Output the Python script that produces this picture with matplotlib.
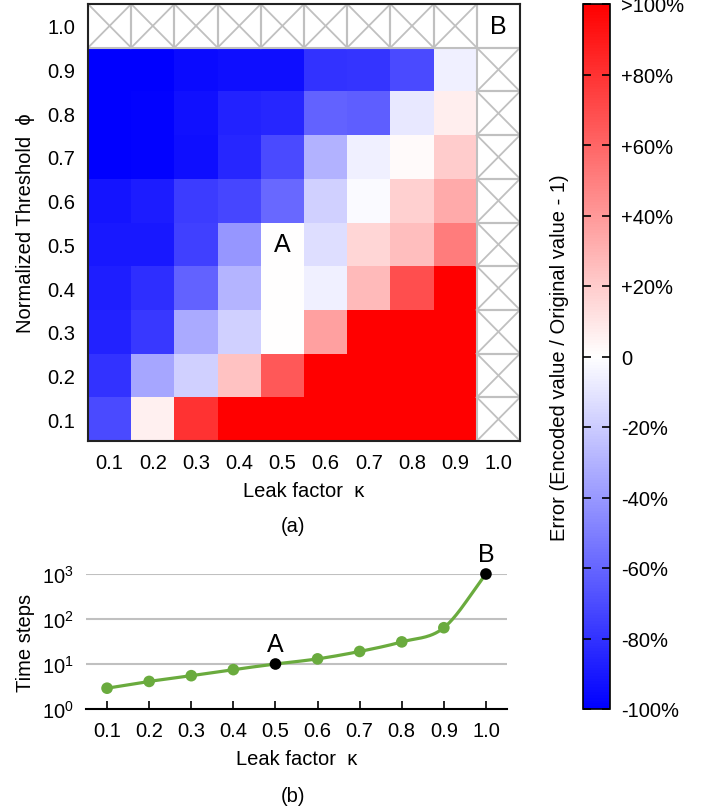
import matplotlib
matplotlib.use("Agg")
import matplotlib.pyplot as plt
import numpy as np

plt.rcParams["font.family"] = ["Liberation Sans", "DejaVu Sans"]
plt.rcParams["mathtext.fontset"] = "custom"
plt.rcParams["mathtext.rm"] = "Liberation Sans"

# ---- data -------------------------------------------------------------
kappa = [0.1, 0.2, 0.3, 0.4, 0.5, 0.6, 0.7, 0.8, 0.9, 1.0]
phi = [0.1, 0.2, 0.3, 0.4, 0.5, 0.6, 0.7, 0.8, 0.9, 1.0]

# error (encoded / original - 1), rows phi 0.1..0.9, cols kappa 0.1..0.9
# values above 1.0 mean ">100%"
err_phi_01 = [-0.71, 0.06, 0.80, 1.5, 1.5, 1.5, 1.5, 1.5, 1.5]
err_phi_02 = [-0.80, -0.35, -0.18, 0.24, 0.65, 1.5, 1.5, 1.5, 1.5]
err_phi_03 = [-0.86, -0.78, -0.33, -0.18, 0.00, 0.37, 1.5, 1.5, 1.5]
err_phi_04 = [-0.88, -0.82, -0.61, -0.29, 0.00, -0.06, 0.27, 0.69, 1.5]
err_phi_05 = [-0.90, -0.90, -0.75, -0.41, 0.00, -0.13, 0.16, 0.25, 0.51]
err_phi_06 = [-0.92, -0.89, -0.76, -0.72, -0.59, -0.18, -0.02, 0.18, 0.33]
err_phi_07 = [-1.00, -0.99, -0.94, -0.85, -0.71, -0.30, -0.06, 0.02, 0.20]
err_phi_08 = [-1.00, -0.99, -0.93, -0.86, -0.85, -0.61, -0.63, -0.09, 0.07]
err_phi_09 = [-1.00, -1.00, -0.96, -0.94, -0.94, -0.80, -0.79, -0.71, -0.06]

cbar_ticks = [-1.0, -0.8, -0.6, -0.4, -0.2, 0.0, 0.2, 0.4, 0.6, 0.8, 1.0]
cbar_labels = ["-100%", "-80%", "-60%", "-40%", "-20%", "0",
               "+20%", "+40%", "+60%", "+80%", ">100%"]

time_steps = [2.9, 4.1, 5.5, 7.5, 10, 13, 19, 31, 64, 1000]
highlight = {0.5: "A", 1.0: "B"}

GRAY = "#c0c0c0"
GREEN = "#6aab3e"
FS = 14.5


def catmull_rom(xs, ys, n=30):
    xs = np.asarray(xs, float)
    ys = np.asarray(ys, float)
    ext = np.concatenate([[2 * ys[0] - ys[1]], ys, [2 * ys[-1] - ys[-2]]])
    out_x, out_y = [], []
    for i in range(len(xs) - 1):
        p0, p1, p2, p3 = ext[i], ext[i + 1], ext[i + 2], ext[i + 3]
        t = np.linspace(0, 1, n, endpoint=False)
        y = 0.5 * ((2 * p1) + (-p0 + p2) * t
                   + (2 * p0 - 5 * p1 + 4 * p2 - p3) * t ** 2
                   + (-p0 + 3 * p1 - 3 * p2 + p3) * t ** 3)
        out_x.append(xs[i] + (xs[i + 1] - xs[i]) * t)
        out_y.append(y)
    out_x.append([xs[-1]])
    out_y.append([ys[-1]])
    return np.concatenate(out_x), np.concatenate(out_y)


fig = plt.figure(figsize=(7.1, 8.12), dpi=100)

# ---- (a) heatmap --------------------------------------------------------
ax = fig.add_axes([88 / 710, 1 - 442 / 812, 432 / 710, 437 / 812])
rows = [err_phi_01, err_phi_02, err_phi_03, err_phi_04, err_phi_05,
        err_phi_06, err_phi_07, err_phi_08, err_phi_09]
grid = np.full((len(phi), len(kappa)), np.nan)
grid[:9, :9] = np.array(rows)

edges_x = np.concatenate([[kappa[0] - 0.05], np.array(kappa) + 0.05])
edges_y = np.concatenate([[phi[0] - 0.05], np.array(phi) + 0.05])
mesh = ax.pcolormesh(edges_x, edges_y, np.ma.masked_invalid(grid),
                     cmap="bwr", vmin=-1, vmax=1)

# crossed cells (no data)
for j, k in enumerate(kappa):
    for i, p in enumerate(phi):
        if not np.isnan(grid[i, j]):
            continue
        x0, x1 = k - 0.05, k + 0.05
        y0, y1 = p - 0.05, p + 0.05
        ax.plot([x0, x1, x1, x0, x0], [y0, y0, y1, y1, y0],
                color=GRAY, lw=1.5, zorder=2)
        if k == 1.0 and p == 1.0:
            continue
        ax.plot([x0, x1], [y0, y1], color=GRAY, lw=1.3, zorder=2)
        ax.plot([x0, x1], [y1, y0], color=GRAY, lw=1.3, zorder=2)

ax.text(0.5, 0.5, "A", ha="center", va="center", fontsize=18)
ax.text(1.0, 1.0, "B", ha="center", va="center", fontsize=18)

ax.set_xlim(edges_x[0], edges_x[-1])
ax.set_ylim(edges_y[0], edges_y[-1])
ax.set_xticks(kappa)
ax.set_xticklabels([f"{v:.1f}" for v in kappa])
ax.set_yticks(phi)
ax.set_yticklabels([f"{v:.1f}" for v in phi])
ax.tick_params(length=0, labelsize=FS, pad=9)
ax.set_xlabel("Leak factor  κ", fontsize=FS, labelpad=6)
ax.set_ylabel("Normalized Threshold  ϕ", fontsize=FS, labelpad=9)
for s in ax.spines.values():
    s.set_linewidth(1.5)
    s.set_color("#222222")
    s.set_zorder(3)
fig.text(293 / 710, 1 - 527 / 812, "(a)", ha="center", va="center", fontsize=FS)

# ---- colorbar -----------------------------------------------------------
cax = fig.add_axes([583 / 710, 1 - 710 / 812, 27 / 710, 705 / 812])
cb = fig.colorbar(mesh, cax=cax, ticks=cbar_ticks)
cb.set_ticklabels(cbar_labels)
cb.outline.set_linewidth(1.2)
cax.tick_params(direction="in", left=True, right=True, length=6,
                width=1.2, labelsize=FS, pad=8)
cax.yaxis.set_label_position("left")
cax.set_ylabel("Error (Encoded value / Original value - 1)", fontsize=FS,
               labelpad=10)

# ---- (b) time steps ------------------------------------------------------
bx = fig.add_axes([86 / 710, 1 - 710 / 812, 421 / 710, 135 / 812])
bx.set_yscale("log")
sx, sy = catmull_rom(kappa, np.log10(time_steps))
bx.plot(sx, 10 ** sy, color=GREEN, lw=2.3, zorder=3, clip_on=False)
colors = ["black" if k in highlight else GREEN for k in kappa]
bx.scatter(kappa, time_steps, s=70, c=colors, zorder=4, clip_on=False,
           linewidths=0)
for k, lab in highlight.items():
    bx.annotate(lab, (k, time_steps[kappa.index(k)]), xytext=(0, 6),
                textcoords="offset points", ha="center", va="bottom",
                fontsize=18)

bx.set_xlim(0.05, 1.05)
bx.set_ylim(1, 1000)
bx.set_xticks(kappa)
bx.set_xticklabels([f"{v:.1f}" for v in kappa])
bx.set_yticks([1, 10, 100, 1000])
bx.set_yticklabels([r"$10^0$", r"$10^1$", r"$10^2$", r"$10^3$"])
bx.yaxis.set_minor_locator(matplotlib.ticker.NullLocator())
for yv in [10, 100, 1000]:
    bx.axhline(yv, color=GRAY, lw=1.5, zorder=1)
bx.tick_params(axis="x", direction="in", length=6, width=1.2,
               labelsize=FS, pad=9)
bx.tick_params(axis="y", length=0, labelsize=FS, pad=9)
for side in ["left", "right", "top"]:
    bx.spines[side].set_visible(False)
bx.spines["bottom"].set_linewidth(1.5)
bx.set_xlabel("Leak factor  κ", fontsize=FS, labelpad=6)
bx.set_ylabel("Time steps", fontsize=FS, labelpad=5)
fig.text(293 / 710, 1 - 797 / 812, "(b)", ha="center", va="center", fontsize=FS)

fig.savefig("out.png", dpi=100)
